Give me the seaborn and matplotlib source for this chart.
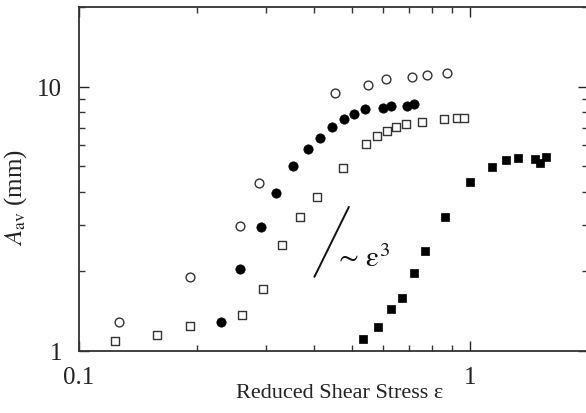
import numpy as np
import pandas as pd
import matplotlib
matplotlib.use("Agg")
import matplotlib.pyplot as plt
import seaborn as sns
from matplotlib.ticker import LogLocator, FixedLocator, NullFormatter

# ---------------- data ----------------
oc_x = [0.1265, 0.1926, 0.2581, 0.2891, 0.4516, 0.5487, 0.6109, 0.7106, 0.7762, 0.8718]
oc_y = [1.283, 1.897, 2.971, 4.33, 9.47, 10.17, 10.69, 10.84, 11.10, 11.22]

fc_x = [0.2304, 0.2581, 0.2921, 0.3196, 0.3526, 0.3852, 0.4133, 0.4444, 0.4770,
        0.5060, 0.5379, 0.5990, 0.6290, 0.6902, 0.7204]
fc_y = [1.283, 2.039, 2.945, 3.947, 4.99, 5.80, 6.38, 7.02, 7.51,
        7.91, 8.26, 8.31, 8.41, 8.41, 8.63]

os_x = [0.1234, 0.1581, 0.1926, 0.2607, 0.2955, 0.3299, 0.3675, 0.4053, 0.4742,
        0.5420, 0.5772, 0.6124, 0.6478, 0.6849, 0.7551, 0.8566, 0.9263, 0.9636]
os_y = [1.091, 1.152, 1.246, 1.371, 1.714, 2.523, 3.224, 3.81, 4.92,
        6.04, 6.53, 6.81, 7.02, 7.21, 7.36, 7.51, 7.62, 7.62]

fs_x = [0.5335, 0.5806, 0.6281, 0.6712, 0.7192, 0.7673, 0.8617, 0.9982, 1.140,
        1.234, 1.324, 1.464, 1.513, 1.562]
fs_y = [1.107, 1.232, 1.437, 1.589, 1.964, 2.385, 3.204, 4.37, 4.98,
        5.26, 5.38, 5.34, 5.12, 5.44]

guide_x = [0.40, 0.49]
guide_y = [1.907 * (x / 0.40) ** 3 for x in guide_x]

x_ticks = [0.1, 1]
x_ticklabels = ["0.1", "1"]
y_ticks = [1, 10]
y_ticklabels = ["1", "10"]

# ---------------- style ----------------
sns.set_theme(style="ticks")
plt.rcParams["font.family"] = ["Liberation Serif", "DejaVu Serif"]
plt.rcParams["mathtext.fontset"] = "stix"

fig = plt.figure(figsize=(5.86, 4.14), dpi=100)
ax = fig.add_axes([79 / 586, 62 / 414, 508.7 / 586, 344 / 414])
ax.set_xscale("log")
ax.set_yscale("log")

sns.scatterplot(x=oc_x, y=oc_y, ax=ax, marker="o", s=40, facecolor="white",
                edgecolor="#333333", linewidth=1.0, zorder=3)
sns.scatterplot(x=fc_x, y=fc_y, ax=ax, marker="o", s=45, color="black",
                edgecolor="black", linewidth=0.5, zorder=3)
sns.scatterplot(x=os_x, y=os_y, ax=ax, marker="s", s=32, facecolor="white",
                edgecolor="#333333", linewidth=1.0, zorder=3)
sns.scatterplot(x=fs_x, y=fs_y, ax=ax, marker="s", s=38, color="black",
                edgecolor="black", linewidth=0.5, zorder=3)
sns.lineplot(x=guide_x, y=guide_y, ax=ax, color="#111111", linewidth=1.4)

ax.text(0.45, 2.24, r"$\sim\,\mathrm{\varepsilon}^{3}$", fontsize=21, ha="left",
        va="center", color="#111111")

ax.set_xlim(0.1, 2.0)
ax.set_ylim(1, 20)

ax.xaxis.set_major_locator(FixedLocator(x_ticks))
ax.set_xticklabels(x_ticklabels)
ax.yaxis.set_major_locator(FixedLocator(y_ticks))
ax.set_yticklabels(y_ticklabels)
ax.xaxis.set_minor_locator(LogLocator(base=10, subs=np.arange(2, 10)))
ax.yaxis.set_minor_locator(LogLocator(base=10, subs=np.arange(2, 10)))
ax.xaxis.set_minor_formatter(NullFormatter())
ax.yaxis.set_minor_formatter(NullFormatter())

ax.tick_params(which="both", direction="in", top=True, right=True,
               color="#333333", width=1.0)
ax.tick_params(which="major", length=7, labelsize=18, colors="#222222")
ax.tick_params(axis="x", which="major", pad=11)
ax.tick_params(axis="y", which="major", pad=12)
ax.tick_params(which="minor", length=4)

for sp in ax.spines.values():
    sp.set_linewidth(1.3)
    sp.set_color("#333333")

ax.set_xlabel("Reduced Shear Stress ε", fontsize=16, color="#222222")
ax.xaxis.set_label_coords((339.5 - 79) / 508.7, -(384 - 352) / 344)
ax.set_ylabel(r"$A_{\mathrm{av}}$ (mm)", fontsize=18, color="#222222")
ax.yaxis.set_label_coords((29 - 79) / 508.7, (352 - 198) / 344)

fig.savefig("out.png", dpi=100)
